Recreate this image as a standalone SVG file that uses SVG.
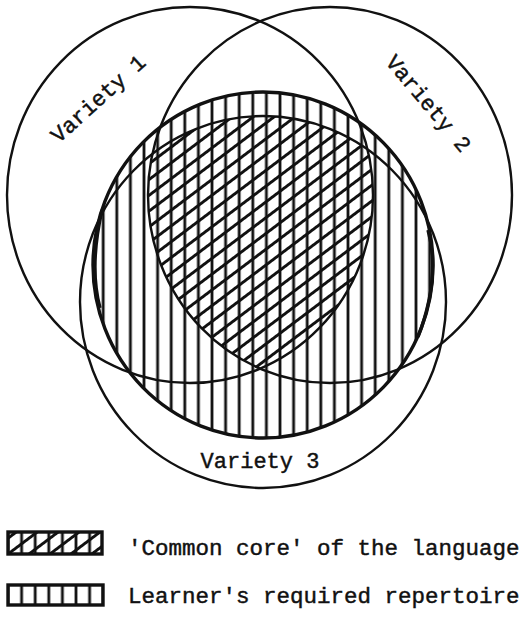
<svg xmlns="http://www.w3.org/2000/svg" width="532" height="618" viewBox="0 0 532 618">
<style>
.ring{fill:none;stroke:#111;stroke-width:2.4}
.bold{fill:none;stroke:#111;stroke-width:3.4}
.lbl{font-family:"Liberation Mono","Courier New",monospace;font-size:22px;fill:#111;stroke:#111;stroke-width:0.45}
.leg{font-family:"Liberation Mono","Courier New",monospace;font-size:22.5px;fill:#111;stroke:#111;stroke-width:0.45}
</style>
<defs>
<pattern id="vl" patternUnits="userSpaceOnUse" x="14.8" y="0" width="13.6" height="20">
<line x1="6.8" y1="0" x2="6.8" y2="20" stroke="#111" stroke-width="2.8"/>
</pattern>
<pattern id="dg" patternUnits="userSpaceOnUse" x="0" y="0" width="40" height="12.6" patternTransform="rotate(-37)">
<line x1="0" y1="6.3" x2="40" y2="6.3" stroke="#111" stroke-width="2.8"/>
</pattern>
<clipPath id="c1"><ellipse cx="190" cy="195" rx="183" ry="188"/></clipPath>
<clipPath id="c2"><ellipse cx="330" cy="195" rx="182" ry="188"/></clipPath>
</defs>
<rect x="0" y="0" width="532" height="618" fill="#fff"/>

<g id="repertoire">
<ellipse cx="263" cy="265" rx="170" ry="173" fill="url(#vl)"/>
</g>

<g id="common-core">
<g clip-path="url(#c1)"><g clip-path="url(#c2)">
<ellipse cx="263" cy="302" rx="183" ry="186" fill="url(#dg)"/>
</g></g>
</g>

<g id="repertoire-outline">
<ellipse class="bold" cx="263" cy="265" rx="170" ry="173"/>
<path class="bold" d="M102 210 Q89 267 100 308"/>
<path class="bold" d="M428 230 Q441 277 418 337"/>
</g>

<g id="variety1">
<ellipse class="ring" cx="190" cy="195" rx="183" ry="188"/>
<text class="lbl" x="103" y="104" text-anchor="middle" transform="rotate(-42 103 104)">Variety 1</text>
</g>

<g id="variety2">
<ellipse class="ring" cx="330" cy="195" rx="182" ry="188"/>
<text class="lbl" x="423" y="108" text-anchor="middle" transform="rotate(50 423 108)">Variety 2</text>
</g>

<g id="variety3">
<ellipse class="ring" cx="263" cy="302" rx="183" ry="186"/>
<text class="lbl" x="260" y="468" text-anchor="middle">Variety 3</text>
</g>

<g id="connectors"></g>

<g id="legend">
<rect x="8" y="532" width="94" height="22" fill="url(#vl)"/>
<rect x="8" y="532" width="94" height="22" fill="url(#dg)"/>
<rect x="8" y="532" width="94" height="22" class="bold"/>
<text class="leg" x="128" y="555">'Common core' of the language</text>
<rect x="8" y="585" width="95" height="20" fill="url(#vl)"/>
<rect x="8" y="585" width="95" height="20" class="bold"/>
<text class="leg" x="128" y="603">Learner's required repertoire</text>
</g>
</svg>
